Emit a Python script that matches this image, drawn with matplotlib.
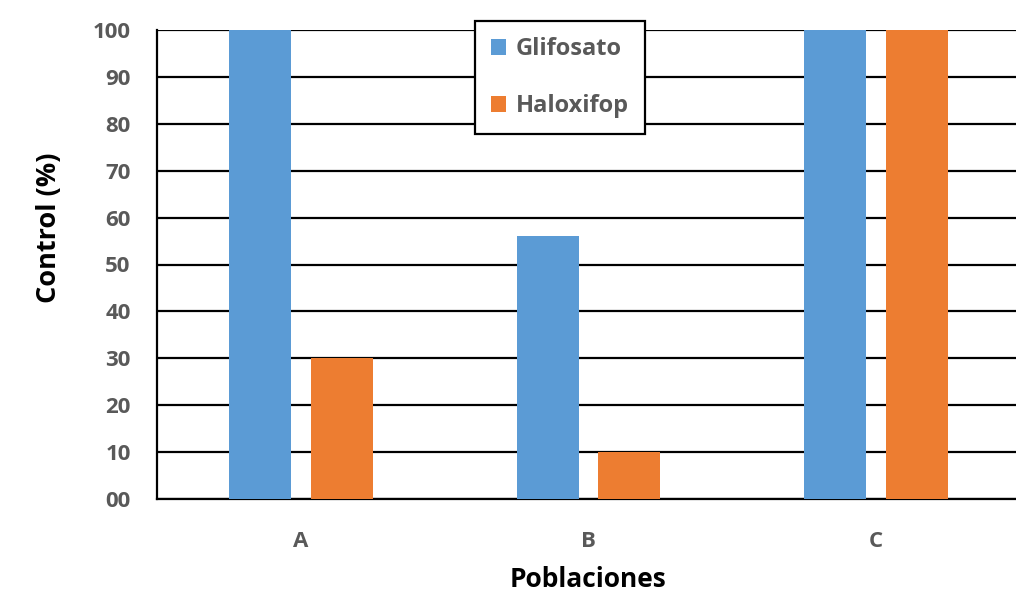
import matplotlib
matplotlib.use("Agg")
import matplotlib.pyplot as plt
import numpy as np
from matplotlib.ticker import FuncFormatter

categories = ["A", "B", "C"]
glifosato = [100, 56, 100]
haloxifop = [30, 10, 100]
series_names = ["Glifosato", "Haloxifop"]
yticks = [0, 10, 20, 30, 40, 50, 60, 70, 80, 90, 100]

plt.rcParams['font.family'] = ['Open Sans', 'DejaVu Sans']

fig = plt.figure(figsize=(10.16, 5.91), dpi=100)
ax = fig.add_axes([157/1016, 1-499/591, (1020-157)/1016, (499-30)/591])

x = np.arange(len(categories))
w = 0.215
off = 0.142
ax.bar(x - off, glifosato, w, color="#5B9BD5", label=series_names[0], zorder=3)
ax.bar(x + off, haloxifop, w, color="#ED7D31", label=series_names[1], zorder=3)

ax.set_xlim(-0.5, 2.5)
ax.set_ylim(0, 100)
ax.set_yticks(yticks)
ax.yaxis.set_major_formatter(FuncFormatter(lambda v, p: "%02d" % int(v)))
ax.set_xticks(x)
ax.set_xticklabels(categories)
ax.grid(axis='y', color='black', linewidth=1.6, zorder=0)
ax.set_axisbelow(True)
for s in ['top', 'right']:
    ax.spines[s].set_visible(False)
for s in ['left', 'bottom']:
    ax.spines[s].set_linewidth(1.6)
    ax.spines[s].set_color('black')
ax.tick_params(length=0, labelsize=16, labelcolor='#595959')
ax.tick_params(axis='y', pad=19)
ax.tick_params(axis='x', pad=23)
for t in ax.get_xticklabels() + ax.get_yticklabels():
    t.set_fontweight('bold')

ax.set_ylabel("Control (%)", fontsize=19.5, fontweight='bold')
ax.yaxis.set_label_coords(-0.110, 0.578)
ax.set_xlabel("Poblaciones", fontsize=19, fontweight='bold', labelpad=10)

leg = ax.legend(loc='upper left', bbox_to_anchor=(475/1016, 1-21/591), bbox_transform=fig.transFigure,
                fancybox=False, edgecolor='black', framealpha=1, fontsize=17,
                handlelength=0.65, handleheight=0.65, handletextpad=0.4,
                labelspacing=1.4, borderpad=0.68, borderaxespad=0)
leg.get_frame().set_linewidth(1.6)
for t in leg.get_texts():
    t.set_color('#595959')
    t.set_fontweight('bold')
leg.set_zorder(5)

fig.savefig("out.png", dpi=100)
